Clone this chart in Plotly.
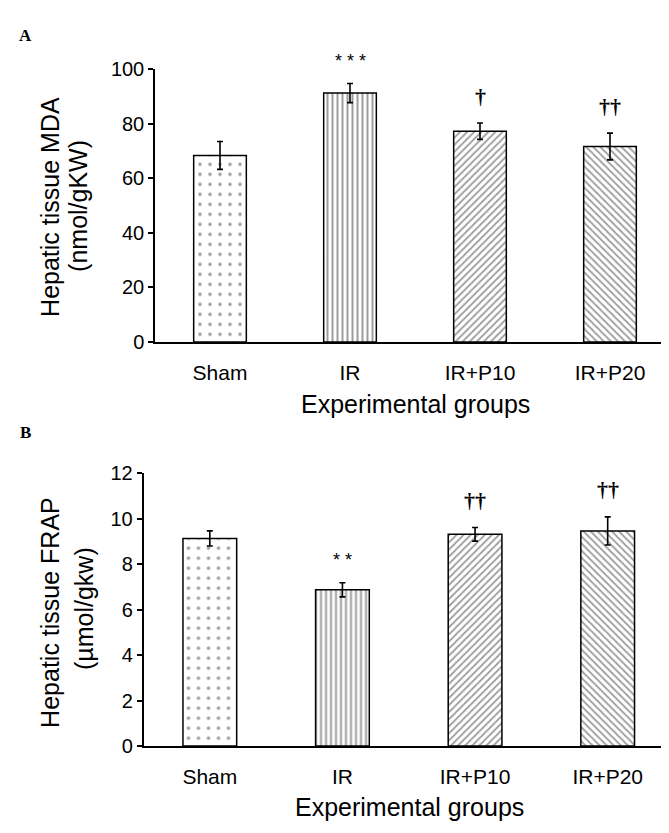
import plotly.graph_objects as go

W, H = 669, 833

groups = ["Sham", "IR", "IR+P10", "IR+P20"]

mda_values = [68.4, 91.3, 77.3, 71.7]
mda_errors = [5.1, 3.5, 3.0, 4.9]
mda_marks = ["", "* * *", "†", "††"]
mda_ticks = [0, 20, 40, 60, 80, 100]

frap_values = [9.13, 6.87, 9.31, 9.46]
frap_errors = [0.33, 0.31, 0.30, 0.62]
frap_marks = ["", "* *", "††", "††"]
frap_ticks = [0, 2, 4, 6, 8, 10, 12]

patterns = [".", "|", "/", "\\"]
pattern_sizes = [10, 5, 5, 5]
pattern_solidity = [0.1, 0.4, 0.35, 0.35]

SANS = "Liberation Sans, Arial, sans-serif"
SERIF = "Liberation Serif, Times New Roman, serif"


def px_x(p):
    return p / W


def px_y(p):
    return (H - p) / H


fig = go.Figure()

for vals, errs, xa, ya in [(mda_values, mda_errors, "x", "y"),
                           (frap_values, frap_errors, "x2", "y2")]:
    fig.add_trace(go.Bar(
        x=groups, y=vals, xaxis=xa, yaxis=ya,
        width=0.405,
        marker=dict(
            color="white",
            line=dict(color="black", width=1.5),
            pattern=dict(shape=patterns, size=pattern_sizes,
                         solidity=pattern_solidity,
                         fgcolor="#3a3a3a", bgcolor="white", fillmode="overlay"),
        ),
        error_y=dict(type="data", array=errs, visible=True,
                     color="black", thickness=1.6, width=3),
        showlegend=False,
        hoverinfo="skip",
    ))

axis_common = dict(showline=True, linecolor="black", linewidth=1.5,
                   showgrid=False, zeroline=False, mirror=False)

fig.update_layout(
    width=W, height=H,
    margin=dict(l=0, r=0, t=0, b=0),
    paper_bgcolor="white", plot_bgcolor="white",
    font=dict(family=SANS, color="black"),
    xaxis=dict(domain=[px_x(147), px_x(667)], anchor="y",
               range=[-0.5, 3.5], ticks="outside", ticklen=11,
               tickcolor="rgba(0,0,0,0)",
               tickfont=dict(size=21, family=SANS), **axis_common),
    yaxis=dict(domain=[px_y(331.7), px_y(51.7)], anchor="x",
               range=[0, 100], tickvals=mda_ticks, ticks="outside",
               ticklen=5, tickwidth=1.5, tickcolor="black",
               tickfont=dict(size=20, family=SANS), **axis_common),
    xaxis2=dict(domain=[px_x(135.5), px_x(666)], anchor="y2",
                range=[-0.5, 3.5], ticks="outside", ticklen=11,
                tickcolor="rgba(0,0,0,0)",
                tickfont=dict(size=21, family=SANS), **axis_common),
    yaxis2=dict(domain=[px_y(746.7), px_y(466.5)], anchor="x2",
                range=[0, 12], tickvals=frap_ticks, ticks="outside",
                ticklen=5, tickwidth=1.5, tickcolor="black",
                tickfont=dict(size=20, family=SANS), **axis_common),
)

ann = []
# significance marks
for vals, errs, marks, xr, yr in [(mda_values, mda_errors, mda_marks, "x", "y"),
                                  (frap_values, frap_errors, frap_marks, "x2", "y2")]:
    for g, v, e, m in zip(groups, vals, errs, marks):
        if not m:
            continue
        is_star = "*" in m
        ann.append(dict(
            x=g, y=v + e, xref=xr, yref=yr,
            text=m if is_star else "<b>%s</b>" % m, showarrow=False,
            xanchor="center", yanchor="middle", yshift=23 if is_star else 27,
            font=dict(size=18 if is_star else 22,
                      family=SANS if is_star else SERIF, color="black"),
        ))

# y-axis titles
for txt, xc, yc in [("Hepatic tissue MDA", 42, 193), ("(nmol/gKW)", 70, 192),
                    ("Hepatic tissue FRAP", 42, 610), ("(µmol/gkw)", 76, 606)]:
    ann.append(dict(text=txt, x=px_x(xc), y=px_y(yc), xref="paper", yref="paper",
                    xanchor="center", yanchor="middle", textangle=-90,
                    showarrow=False, font=dict(size=25, family=SANS, color="black")))

# x-axis titles
for txt, xc, yc in [("Experimental groups", 407, 395),
                    ("Experimental groups", 401, 809)]:
    ann.append(dict(text=txt, x=px_x(xc), y=px_y(yc), xref="paper", yref="paper",
                    xanchor="center", yanchor="middle",
                    showarrow=False, font=dict(size=25, family=SANS, color="black")))

# panel letters
for txt, xc, yc in [("A", 17, 17), ("B", 17, 425)]:
    ann.append(dict(text="<b>%s</b>" % txt, x=px_x(xc), y=px_y(yc),
                    xref="paper", yref="paper", xanchor="center", yanchor="middle",
                    showarrow=False,
                    font=dict(size=17, family=SERIF, color="black")))

fig.update_layout(annotations=ann)

fig.write_html("out.html")
